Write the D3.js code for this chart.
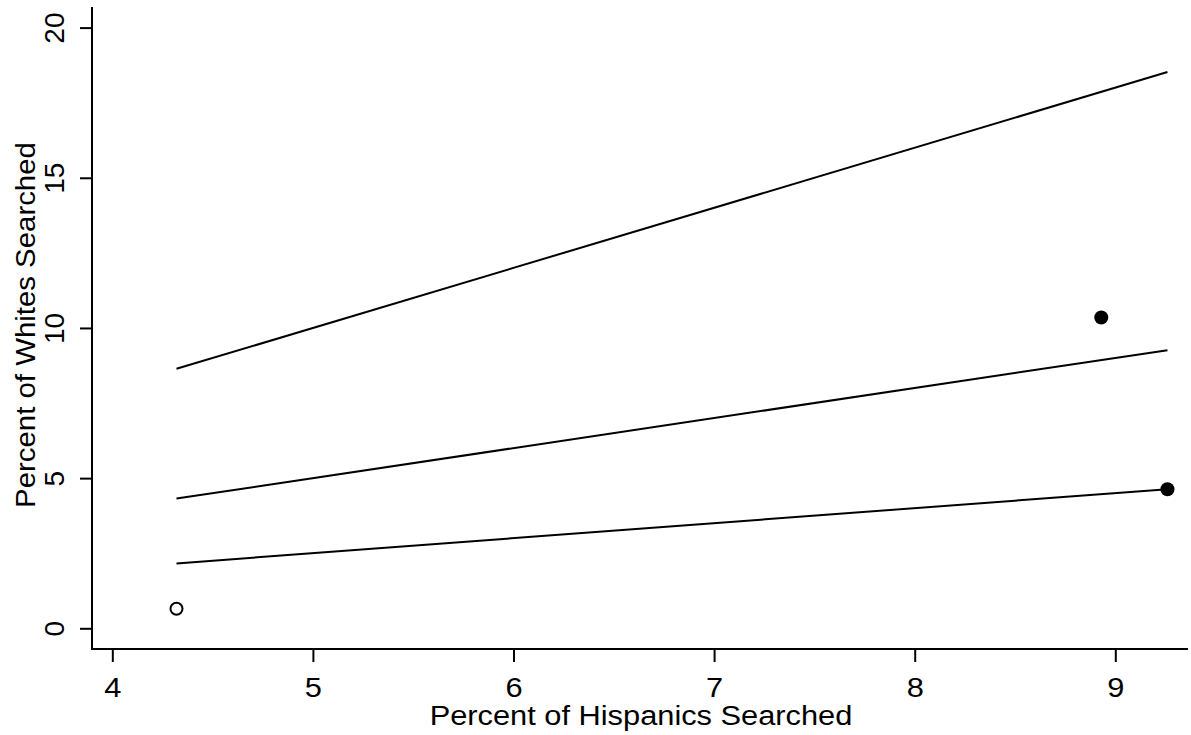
<!DOCTYPE html>
<html>
<head>
<meta charset="utf-8">
<script src="https://cdn.jsdelivr.net/npm/d3@7"></script>
<style>
html,body{margin:0;padding:0;background:#fff;}
svg{display:block;}
text{font-family:"Liberation Sans",Arial,sans-serif;fill:#000;}
</style>
</head>
<body>
<svg id="chart" width="1191" height="735"></svg>
<script>
// Data
const xTicks = [4, 5, 6, 7, 8, 9];
const yTicks = [0, 5, 10, 15, 20];
const pointX = [4.32, 8.93, 9.26];
const pointY = [0.65, 10.35, 4.63];
const pointFilled = [false, true, true];
const lineX = [4.32, 9.26];
const lineUpperY = [8.64, 18.52];
const lineMiddleY = [4.32, 9.26];
const lineLowerY = [2.16, 4.63];
const xTitle = "Percent of Hispanics Searched";
const yTitle = "Percent of Whites Searched";

(function () {
const svg = d3.select("#chart");
const x = d3.scaleLinear().domain([4, 9]).range([112.3, 1115.3]);
const y = d3.scaleLinear().domain([0, 20]).range([628.3, 27.6]);

const pLeft = 92, pRight = 1188, pTop = 7, pBottom = 649;

// x axis
const gx = svg.append("g").attr("transform", `translate(0,${pBottom})`)
  .call(d3.axisBottom(x).tickValues(xTicks).tickSize(13).tickPadding(12).tickFormat(d3.format("d")));
gx.select(".domain").remove();
gx.selectAll(".tick line").attr("stroke", "#000").attr("stroke-width", 2);
gx.selectAll(".tick text").attr("font-size", 28).attr("font-family", "Liberation Sans, Arial, sans-serif")
  .attr("y", null).attr("dy", null)
  .attr("transform", "translate(0,48) scale(1.1,1)");
svg.append("line").attr("x1", pLeft - 1).attr("x2", pRight).attr("y1", pBottom).attr("y2", pBottom)
  .attr("stroke", "#000").attr("stroke-width", 2);

// y axis
const gy = svg.append("g").attr("transform", `translate(${pLeft},0)`)
  .call(d3.axisLeft(y).tickValues(yTicks).tickSize(12).tickFormat(d3.format("d")));
gy.select(".domain").remove();
gy.selectAll(".tick line").attr("stroke", "#000").attr("stroke-width", 2);
gy.selectAll(".tick text")
  .attr("font-size", 28).attr("font-family", "Liberation Sans, Arial, sans-serif")
  .attr("x", null).attr("dy", null)
  .attr("text-anchor", "middle")
  .attr("transform", "translate(-28,0) rotate(-90)");
svg.append("line").attr("x1", pLeft).attr("x2", pLeft).attr("y1", pTop).attr("y2", pBottom + 1)
  .attr("stroke", "#000").attr("stroke-width", 2);

// reference lines
const lineGen = d3.line().x(d => x(d[0])).y(d => y(d[1]));
[lineUpperY, lineMiddleY, lineLowerY].forEach(ys => {
  svg.append("path").datum(lineX.map((v, i) => [v, ys[i]]))
    .attr("d", lineGen).attr("fill", "none").attr("stroke", "#000").attr("stroke-width", 2);
});

// points
svg.selectAll("circle.pt").data(pointX.map((v, i) => ({x: v, y: pointY[i], f: pointFilled[i]})))
  .enter().append("circle").attr("class", "pt")
  .attr("cx", d => x(d.x)).attr("cy", d => y(d.y))
  .attr("r", d => d.f ? 7 : 6)
  .attr("fill", d => d.f ? "#000" : "#fff")
  .attr("stroke", "#000").attr("stroke-width", d => d.f ? 0 : 2);

// titles
svg.append("text").attr("transform", "translate(641,725) scale(1.1,1)").attr("text-anchor", "middle")
  .attr("font-size", 28).text(xTitle);
svg.append("text").attr("transform", "translate(35,325) rotate(-90) scale(1.05,1)").attr("text-anchor", "middle")
  .attr("font-size", 28).text(yTitle);
})();
</script>
</body>
</html>
